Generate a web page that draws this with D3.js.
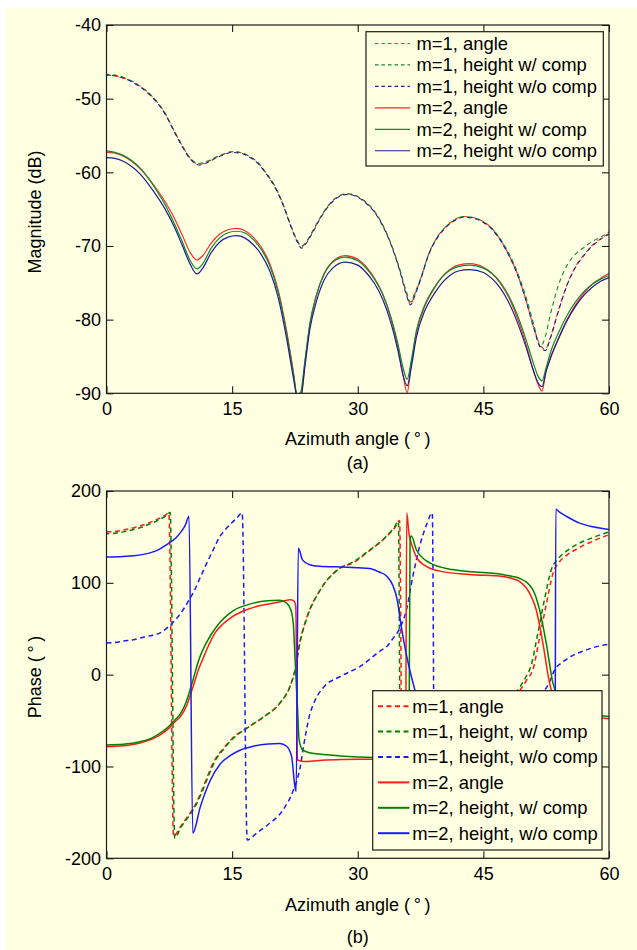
<!DOCTYPE html>
<html>
<head>
<meta charset="utf-8">
<script src="https://cdn.jsdelivr.net/npm/d3@7"></script>
<style>
  html, body { margin: 0; padding: 0; background: #ffffff; }
  svg { display: block; }
</style>
</head>
<body>
<svg id="fig" width="637" height="950"></svg>
<script>
// ---------- shared axis ticks ----------
const xTicks = [0, 15, 30, 45, 60];
const magTicks = [-90, -80, -70, -60, -50, -40];
const phaseTicks = [-200, -100, 0, 100, 200];

// ---------- (a) magnitude, m = 1 (dB) ----------
const azMagM1 = [0,1,2,3,4,5,6,7,8,9,10,11,12,13,14,15,16,17,18,19,20,21,22,
  22.8,23.3,23.8,24.5,25.5,26.5,27.5,28.8,30,31,32,33,34,35,
  35.8,36.3,36.8,37.5,38.5,39.5,40.5,41.5,42.6,44,45,46,47,48,49,50,51,
  51.8,52.4,53,54,55,56,57,58,59,60];
const magM1Angle = [-46.8,-46.9,-47.2,-47.6,-48.3,-49.2,-50.4,-52.0,-54.2,-56.3,-58.1,-58.9,-58.6,-58.0,-57.5,-57.2,-57.3,-57.8,-58.6,-60.0,-61.7,-64.1,-67.2,
  -69.4,-70.1,-69.6,-68.3,-66.2,-64.5,-63.4,-62.9,-63.3,-64.1,-65.3,-67.2,-69.8,-73.2,
  -76.4,-77.9,-76.6,-74.5,-71.0,-68.8,-67.4,-66.5,-66.0,-66.2,-66.7,-67.6,-69.1,-71.1,-73.6,-77.0,-81.0,
  -83.5,-84.0,-82.4,-78.6,-75.2,-72.8,-71.2,-69.9,-69.0,-68.3];
const magM1HeightComp = [-46.7,-46.8,-47.1,-47.6,-48.3,-49.2,-50.4,-52.0,-54.2,-56.3,-58.1,-58.8,-58.5,-58.0,-57.5,-57.2,-57.3,-57.8,-58.6,-60.0,-61.7,-64.1,-67.2,
  -69.3,-70.0,-69.5,-68.2,-66.2,-64.5,-63.4,-62.9,-63.3,-64.1,-65.3,-67.2,-69.8,-73.1,
  -76.2,-77.6,-76.4,-74.4,-71.0,-68.8,-67.4,-66.5,-66.0,-66.2,-66.7,-67.6,-69.0,-70.9,-73.4,-76.6,-80.6,
  -83.7,-82.3,-79.3,-75.2,-72.6,-71.1,-70.2,-69.4,-68.8,-68.1];
const magM1HeightNoComp = [-46.8,-46.9,-47.2,-47.7,-48.4,-49.3,-50.5,-52.1,-54.3,-56.4,-58.2,-59.0,-58.7,-58.1,-57.6,-57.3,-57.4,-57.9,-58.7,-60.1,-61.8,-64.2,-67.3,
  -69.5,-70.3,-69.7,-68.4,-66.3,-64.6,-63.5,-63.0,-63.4,-64.2,-65.4,-67.3,-69.9,-73.3,
  -76.6,-78.0,-76.8,-74.6,-71.1,-68.9,-67.5,-66.6,-66.1,-66.3,-66.8,-67.7,-69.2,-71.2,-73.7,-77.1,-81.1,
  -83.7,-84.2,-82.5,-78.7,-75.3,-72.9,-71.3,-70.0,-69.1,-68.4];

// ---------- (a) magnitude, m = 2 (dB) ----------
const azMagM2 = [0,1,2,3,4,5,6,7,8,9,10,
  10.8,11.5,12.5,13.5,14.5,15.5,16.5,17.5,18.5,19.5,20.5,21.5,
  22.3,22.8,23.2,23.7,24.3,25,26,27,28.5,30,31,32,33,34,
  34.8,35.4,35.9,36.4,37,38,39,40,41,42,43.4,45,46,47,48,49,50,51,
  51.5,52,52.5,53,54,55,56,57,58,59,60];
const magM2Angle = [-57.3,-57.4,-57.8,-58.5,-59.5,-60.8,-62.3,-64.0,-66.0,-68.4,-70.9,
  -71.9,-71.3,-69.6,-68.4,-67.8,-67.6,-67.9,-68.8,-70.2,-72.4,-76.0,-81.5,
  -87.0,-90.6,-90.4,-85.8,-80.6,-77.0,-73.7,-72.1,-71.3,-71.8,-72.8,-74.4,-76.6,-80.0,
  -83.8,-87.5,-89.9,-86.0,-81.8,-78.2,-76.0,-74.3,-73.2,-72.6,-72.4,-72.9,-73.7,-75.0,-76.9,-79.6,-83.0,-87.0,
  -88.7,-89.7,-86.9,-85.3,-82.5,-80.0,-78.0,-76.4,-75.2,-74.4,-73.7];
const magM2HeightComp = [-57.1,-57.3,-57.7,-58.4,-59.4,-60.8,-62.5,-64.4,-66.7,-69.3,-72.0,
  -73.1,-72.4,-70.3,-68.9,-68.2,-68.0,-68.2,-69.1,-70.5,-72.7,-76.3,-81.8,
  -87.2,-90.3,-89.8,-85.5,-80.4,-76.9,-73.8,-72.2,-71.5,-72.0,-73.0,-74.5,-76.6,-79.8,
  -83.3,-86.5,-88.1,-85.5,-81.5,-78.0,-75.9,-74.3,-73.3,-72.8,-72.6,-73.0,-73.7,-74.9,-76.7,-79.2,-82.4,-86.0,
  -87.6,-88.3,-86.5,-84.5,-81.7,-79.4,-77.6,-76.2,-75.2,-74.5,-74.0];
const magM2HeightNoComp = [-58.0,-58.1,-58.5,-59.2,-60.2,-61.6,-63.2,-65.0,-67.2,-69.8,-72.5,
  -73.8,-73.0,-70.9,-69.5,-68.8,-68.6,-68.9,-69.8,-71.2,-73.4,-77.0,-82.5,
  -87.8,-90.6,-90.6,-86.3,-81.2,-77.8,-74.6,-73.0,-72.2,-72.6,-73.6,-75.1,-77.3,-80.6,
  -84.2,-87.5,-89.0,-86.4,-82.4,-78.8,-76.7,-75.1,-74.0,-73.4,-73.2,-73.6,-74.4,-75.7,-77.6,-80.2,-83.4,-87.0,
  -88.5,-89.1,-87.0,-85.2,-82.5,-80.1,-78.2,-76.7,-75.6,-74.8,-74.3];

// ---------- (b) phase (degrees) ----------
const azPhM1Angle = [0,1,2,3,4,5,6,7,7.45,8.0,8.8,9.5,10.4,11.2,12.0,12.8,14,15,16.8,18.75,20.7,21.9,22.5,23.1,23.9,25.5,27.9,29.5,31.1,33.5,34.5,35.0,
  35.35,36,37,38.5,40,41.5,43.5,46,48,49.3,50.3,50.9,51.7,52.5,53.3,54.1,55,56,57,58,59,60];
const phM1Angle = [155.5,156,157.5,159.5,162,165,169,173.5,176,-176,-166,-157,-145,-130,-112,-95,-80,-69.5,-58,-46,-31,-13,5,36,62,92,116,122,133,151,161,168,
  -178,-168,-152,-132,-110,-90,-70,-50,-33,-18,-4,5,40,76,110,123,130.5,136,141,145,149,152.5];

const azPhM1HeightComp = [0,1,2,3,4,5,6,7,7.6,8.15,8.9,9.6,10.5,11.3,12.1,12.9,14.1,15.1,16.8,18.75,20.7,21.9,22.5,23.1,23.9,25.5,27.9,29.5,31.1,33.5,34.4,34.85,
  35.15,36,37,38.5,40,41.5,43.5,46,48,49.1,50.1,50.7,51.5,52.3,53.1,54,55,56,57,58,59,60];
const phM1HeightComp = [153.5,154,155.5,157.5,160,163.5,167.5,172.5,176.5,-178,-166,-157,-145,-130,-112,-95,-80,-69.5,-58,-46,-31,-13,4,35,61,92,116,123,133.5,151.5,161,167,
  -178,-166,-150,-130,-108,-88,-68,-48,-30,-17,-2,10,45,82,114,127,135,141,145.5,149,152.5,155.5];

const azPhM1HeightNoComp = [0,1,2,3.2,4.5,5.5,6.4,7.6,8.8,9.9,10.4,11.2,12.0,12.8,13.5,14.2,14.8,15.5,16.2,
  16.8,18,19.2,21.1,22.3,23.1,23.6,24.2,24.9,25.9,27.9,30.3,32.7,33.5,34.25,35.0,35.8,36.6,37.4,38.2,38.9,
  39.2,40,42,44,46,48,50,51.5,52.8,53.5,54.5,55.3,57.3,59.6,60];
const phM1HeightNoComp = [34.5,35,36.5,38,41,43,45.5,54,66,82,90,106,122,137,150,158,164,170,176,
  -180,-172,-164,-147,-126,-102,-74,-46,-28,-14,-2,9,26,31,40,50,70,108,140,163,176,
  -178,-170,-150,-128,-100,-70,-42,-25,-10,5,14,19,27,32.5,33];

const azPhM2Angle = [0,2,4,5.5,6.5,7.5,8.2,8.8,9.6,10.2,11.0,11.5,12.2,13.0,14,15.0,16.8,18.5,20,21,22,22.4,22.6,
  22.8,23.5,25.4,28,31.9,34,35.0,35.5,35.7,35.85,36.1,36.5,37,38,39.7,43.3,47.3,48.5,49.3,50.5,51.3,52.1,52.9,53.5,54.5,56,58,60];
const phM2Angle = [-78.5,-77.5,-74.5,-70,-65,-58,-51,-46,-33,-17,6,17,32,46,56,63,71,75.5,78,80,81.5,80,74,
  -93,-94.5,-93.5,-92.5,-92,-91.5,-92,-100,-112,176,155,140,128,119,113,109,107,104.5,101.7,89,71,34.5,-9,-28,-38,-43,-46,-48];

const azPhM2HeightComp = [0,2,4,5.5,6.5,7.5,8.2,8.8,9.5,10.1,11.1,12,13.2,15.2,17,19.2,20.7,21.5,22.0,22.3,22.5,22.8,23.0,23.4,
  24.2,25.4,27.9,31.9,34,35.5,36.1,36.25,36.4,37.0,38.6,41.3,47.3,48.5,49.3,50.9,51.7,52.5,53.3,54,55,56.5,58,60];
const phM2HeightComp = [-76.5,-75.8,-73,-68.5,-63,-56,-49,-43,-30,-13,18,36,53,70,76.5,80.5,81,78,71,56,20,-34.5,-71,-81.7,
  -85,-86.5,-88.5,-90.3,-90.5,-92,-96,148,151,136,121.7,114.4,109,107,105,92.6,71,34.5,-9,-27,-36,-41,-44,-45.5];

const azPhM2HeightNoComp = [0,2,3.2,5.2,6.3,7.2,8.3,8.8,9.4,9.85,
  10.3,11.2,12.4,13.6,14.8,16,17.5,19.3,20.7,21.5,22.1,22.5,22.65,
  22.9,23.4,24.2,25.4,28.7,31.4,32.5,33.5,34.2,34.7,35.2,35.85,36.4,36.8,37.5,38.5,40,43,47,50,52,53.2,53.55,
  53.65,54.1,54.9,56.5,58.1,60];
const phM2HeightNoComp = [128,128.8,129.5,132.6,136.5,141.7,149,154.4,162.5,172.5,
  -172.5,-144,-115,-97,-88,-82,-78,-75.5,-75,-78,-89,-122,-127,
  138,125,120,118,117,115.5,112,107,97,82,52,20,-2,-16,-45,-68,-82,-90,-93,-96,-100,-110,-130,
  180,177,172.5,165,161,158];

// ---------- legend labels ----------
const magLegend = ["m=1, angle", "m=1, height w/ comp", "m=1, height w/o comp",
                   "m=2, angle", "m=2, height w/ comp", "m=2, height w/o comp"];
const phaseLegend = ["m=1, angle", "m=1, height, w/ comp", "m=1, height, w/o comp",
                     "m=2, angle", "m=2, height, w/ comp", "m=2, height, w/o comp"];

// ---------- styling ----------
const CREAM = "#ffffe1";
const FONT = "'Liberation Sans', Arial, Helvetica, sans-serif";
const INK = "#1a1a1a";

const svg = d3.select("#fig");
svg.append("rect").attr("x", 6).attr("y", 8).attr("width", 631).attr("height", 942).attr("fill", CREAM);

function drawPanel(cfg) {
  const x = d3.scaleLinear().domain([0, 60]).range([cfg.l, cfg.r]);
  const y = d3.scaleLinear().domain(cfg.yDomain).range([cfg.b, cfg.t]);
  const g = svg.append("g");

  g.append("clipPath").attr("id", cfg.id + "-clip")
    .append("rect").attr("x", cfg.l).attr("y", cfg.t)
    .attr("width", cfg.r - cfg.l).attr("height", cfg.b - cfg.t);

  const line = d3.line().x(d => x(d[0])).y(d => y(d[1])).curve(d3.curveMonotoneX);
  const curves = g.append("g").attr("clip-path", `url(#${cfg.id}-clip)`);
  cfg.series.forEach(s => {
    curves.append("path")
      .datum(d3.zip(s.az, s.val))
      .attr("d", line)
      .attr("fill", "none")
      .attr("stroke", s.color)
      .attr("stroke-width", s.width)
      .attr("stroke-dasharray", s.dash ? cfg.dash : null)
      .attr("stroke-dashoffset", s.dash ? s.offset : null)
      .attr("stroke-linejoin", "round");
  });

  const styleAxis = sel => {
    sel.select(".domain").remove();
    sel.attr("font-family", FONT).attr("font-size", 18);
    sel.selectAll(".tick line").attr("stroke", INK).attr("stroke-width", 1.1);
    sel.selectAll(".tick text").attr("fill", "#000");
  };

  g.append("g").attr("transform", `translate(0,${cfg.b})`)
    .call(d3.axisBottom(x).tickValues(xTicks).tickSize(-7).tickPadding(8.5).tickFormat(d => String(d)))
    .call(styleAxis);
  g.append("g").attr("transform", `translate(0,${cfg.t})`)
    .call(d3.axisTop(x).tickValues(xTicks).tickSize(-7).tickFormat(""))
    .call(styleAxis);
  g.append("g").attr("transform", `translate(${cfg.l},0)`)
    .call(d3.axisLeft(y).tickValues(cfg.yTicks).tickSize(-7).tickPadding(5.5).tickFormat(d => String(d)))
    .call(styleAxis);
  g.append("g").attr("transform", `translate(${cfg.r},0)`)
    .call(d3.axisRight(y).tickValues(cfg.yTicks).tickSize(-7).tickFormat(""))
    .call(styleAxis);

  g.append("rect").attr("x", cfg.l).attr("y", cfg.t)
    .attr("width", cfg.r - cfg.l).attr("height", cfg.b - cfg.t)
    .attr("fill", "none").attr("stroke", INK).attr("stroke-width", 1.2);

  // legend
  const L = cfg.legend;
  const lg = g.append("g");
  lg.append("rect").attr("x", L.x).attr("y", L.y).attr("width", L.w).attr("height", L.h)
    .attr("fill", CREAM).attr("stroke", INK).attr("stroke-width", 1.2);
  cfg.series.forEach((s, i) => {
    const yy = L.row0 + i * L.step;
    lg.append("line").attr("x1", L.x1).attr("x2", L.x2).attr("y1", yy).attr("y2", yy)
      .attr("stroke", s.color).attr("stroke-width", L.lw)
      .attr("stroke-dasharray", s.dash ? L.dash : null);
    lg.append("text").attr("x", L.tx).attr("y", yy).attr("dy", "0.35em")
      .attr("font-family", FONT).attr("font-size", L.fs).attr("fill", "#000")
      .text(L.labels[i]);
  });

  // axis titles and panel tag
  const cx = (cfg.l + cfg.r) / 2;
  g.append("text").attr("x", cx).attr("y", cfg.xTitleY).attr("text-anchor", "middle")
    .attr("font-family", FONT).attr("font-size", 18).attr("fill", "#000")
    .text("Azimuth angle (\u2009°\u2009)");
  g.append("text").attr("x", cx).attr("y", cfg.tagY).attr("text-anchor", "middle")
    .attr("font-family", FONT).attr("font-size", 18).attr("fill", "#000")
    .text(cfg.tag);
  g.append("text")
    .attr("transform", `translate(${cfg.yTitleX},${cfg.yTitleY}) rotate(-90)`)
    .attr("text-anchor", "middle")
    .attr("font-family", FONT).attr("font-size", 18).attr("fill", "#000")
    .text(cfg.yTitle);
}

// (a) magnitude
drawPanel({
  id: "mag", l: 106.5, r: 609, t: 25, b: 393.3,
  yDomain: [-90, -40], yTicks: magTicks, dash: "4.5,3.5",
  series: [
    { az: azMagM1, val: magM1Angle,        color: "#ff2a2a", dash: true,  offset: 0,   width: 1.1 },
    { az: azMagM1, val: magM1HeightComp,   color: "#0b8a35", dash: true,  offset: 1.3, width: 1.1 },
    { az: azMagM1, val: magM1HeightNoComp, color: "#1e1e8c", dash: true,  offset: 2.6, width: 1.1 },
    { az: azMagM2, val: magM2Angle,        color: "#ff2a2a", dash: false, width: 1.2 },
    { az: azMagM2, val: magM2HeightComp,   color: "#0b8a35", dash: false, width: 1.2 },
    { az: azMagM2, val: magM2HeightNoComp, color: "#1e1e8c", dash: false, width: 1.2 }
  ],
  legend: { x: 366, y: 31.7, w: 237.3, h: 134.3, row0: 43.5, step: 21.45,
            x1: 375, x2: 410, tx: 416.5, lw: 1.2, dash: "3.5,3", fs: 18.4, labels: magLegend },
  xTitleY: 445, tagY: 469, tag: "(a)",
  yTitleX: 40.5, yTitleY: 212, yTitle: "Magnitude (dB)"
});

// (b) phase
drawPanel({
  id: "phase", l: 106.5, r: 609, t: 491, b: 858.3,
  yDomain: [-200, 200], yTicks: phaseTicks, dash: "5,3.5",
  series: [
    { az: azPhM1Angle,        val: phM1Angle,        color: "#ff1a1a", dash: true,  offset: 0, width: 1.5 },
    { az: azPhM1HeightComp,   val: phM1HeightComp,   color: "#008000", dash: true,  offset: 2, width: 1.5 },
    { az: azPhM1HeightNoComp, val: phM1HeightNoComp, color: "#1a1aff", dash: true,  offset: 0, width: 1.5 },
    { az: azPhM2Angle,        val: phM2Angle,        color: "#ff1a1a", dash: false, width: 1.5 },
    { az: azPhM2HeightComp,   val: phM2HeightComp,   color: "#008000", dash: false, width: 1.5 },
    { az: azPhM2HeightNoComp, val: phM2HeightNoComp, color: "#1a1aff", dash: false, width: 1.5 }
  ],
  legend: { x: 372.7, y: 690.7, w: 229.3, h: 159.3, row0: 706.2, step: 25.4,
            x1: 378, x2: 409.5, tx: 412.3, lw: 2, dash: "5,3.5", fs: 18.4, labels: phaseLegend },
  xTitleY: 911, tagY: 943, tag: "(b)",
  yTitleX: 40.5, yTitleY: 677, yTitle: "Phase (\u2009°\u2009)"
});
</script>
</body>
</html>
